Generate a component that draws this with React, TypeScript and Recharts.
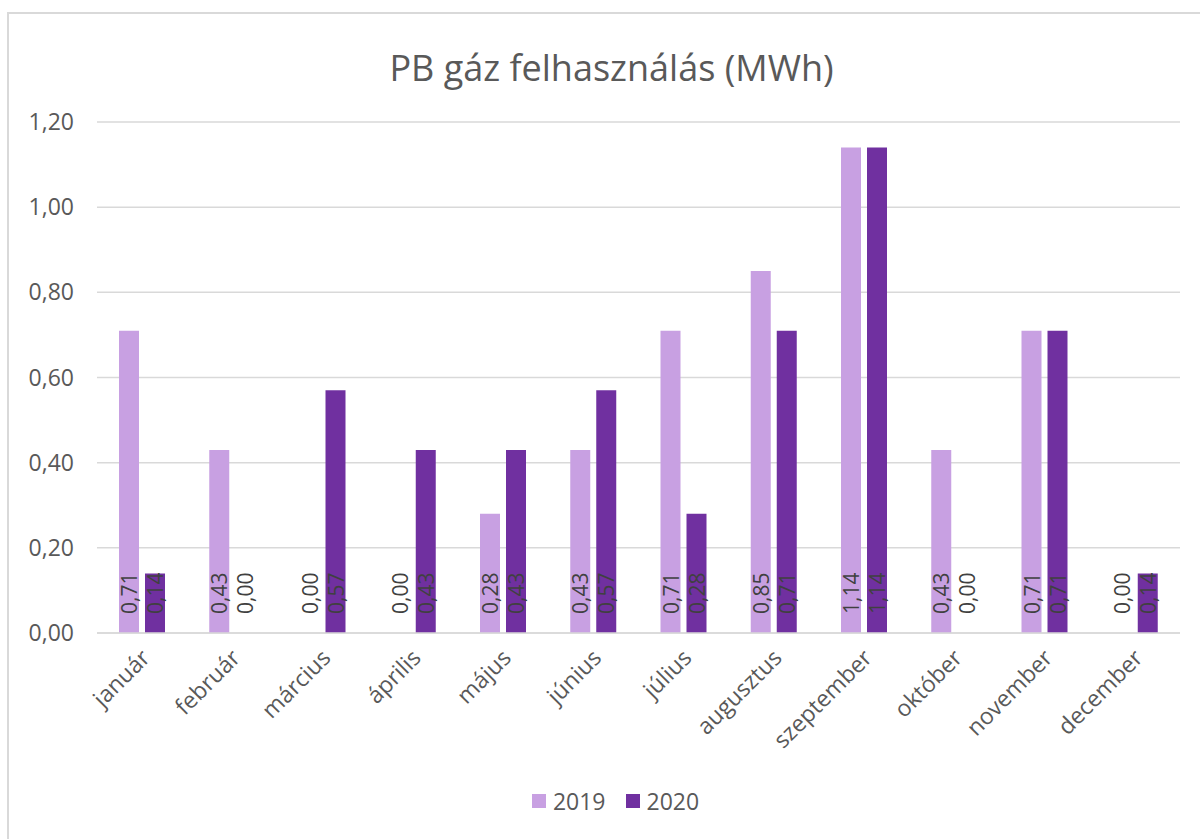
import { BarChart, Bar, XAxis, YAxis, CartesianGrid, Legend, LabelList } from "recharts";

const months = [
  "január",
  "február",
  "március",
  "április",
  "május",
  "június",
  "július",
  "augusztus",
  "szeptember",
  "október",
  "november",
  "december",
];
const values2019 = [0.71, 0.43, 0, 0, 0.28, 0.43, 0.71, 0.85, 1.14, 0.43, 0.71, 0];
const values2020 = [0.14, 0, 0.57, 0.43, 0.43, 0.57, 0.28, 0.71, 1.14, 0, 0.71, 0.14];
const yTicks = [0, 0.2, 0.4, 0.6, 0.8, 1.0, 1.2];

const LIGHT = "#C8A0E2";
const DARK = "#7030A0";
const TEXT = "#595959";

const data = months.map((m, i) => ({ month: m, y2019: values2019[i], y2020: values2020[i] }));

const fmt = (v: number) => v.toFixed(2).replace(".", ",");

const BarValue = (props: any) => {
  const { x, y, width, height, value } = props;
  const cx = x + width / 2;
  const by = y + height - 19;
  return (
    <text
      x={cx}
      y={by}
      transform={`rotate(-90, ${cx}, ${by})`}
      textAnchor="start"
      dominantBaseline="central"
      fontSize={21}
      fill="#404040"
    >
      {fmt(Number(value))}
    </text>
  );
};

const MonthTick = (props: any) => {
  const { x, y, payload } = props;
  return (
    <g transform={`translate(${x + 3},${y + 12})`}>
      <text transform="rotate(-45)" textAnchor="end" dominantBaseline="central" fontSize={23} fill={TEXT}>
        {payload.value}
      </text>
    </g>
  );
};

const LegendBox = () => (
  <div
    style={{
      display: "flex",
      justifyContent: "center",
      alignItems: "center",
      fontSize: 23,
      color: TEXT,
      paddingLeft: 42,
      marginTop: 2,
    }}
  >
    {[
      { name: "2019", color: LIGHT },
      { name: "2020", color: DARK },
    ].map((it) => (
      <div key={it.name} style={{ display: "flex", alignItems: "center", margin: "0 10px" }}>
        <span style={{ display: "inline-block", width: 14, height: 14, background: it.color, marginRight: 7 }} />
        <span>{it.name}</span>
      </div>
    ))}
  </div>
);

export default function App() {
  return (
    <div
      style={{
        position: "absolute",
        left: 7,
        top: 12,
        width: 1193,
        height: 827,
        borderTop: "2px solid #d9d9d9",
        borderLeft: "2px solid #d9d9d9",
        fontFamily: "'Open Sans', sans-serif",
        background: "#fff",
      }}
    >
      <div
        style={{
          position: "absolute",
          top: 29,
          left: 0,
          width: 1205,
          textAlign: "center",
          fontSize: 36,
          color: TEXT,
        }}
      >
        PB gáz felhasználás (MWh)
      </div>
      <BarChart
        width={1191}
        height={825}
        data={data}
        barSize={20}
        barGap={6}
        margin={{ top: 108, right: 20, left: 0, bottom: 22 }}
      >
        <CartesianGrid vertical={false} stroke="#d9d9d9" strokeWidth={1.5} />
        <XAxis
          dataKey="month"
          interval={0}
          tickLine={false}
          axisLine={{ stroke: "#d9d9d9", strokeWidth: 1.5 }}
          tick={<MonthTick />}
          height={150}
        />
        <YAxis
          domain={[0, 1.2]}
          ticks={yTicks}
          tickFormatter={fmt}
          tickLine={false}
          axisLine={false}
          width={88}
          tickMargin={17}
          tick={{ fontSize: 23, fill: TEXT }}
        />
        <Legend verticalAlign="bottom" content={<LegendBox />} />
        <Bar dataKey="y2019" fill={LIGHT} minPointSize={0.01} isAnimationActive={false}>
          <LabelList dataKey="y2019" content={<BarValue />} />
        </Bar>
        <Bar dataKey="y2020" fill={DARK} minPointSize={0.01} isAnimationActive={false}>
          <LabelList dataKey="y2020" content={<BarValue />} />
        </Bar>
      </BarChart>
    </div>
  );
}
